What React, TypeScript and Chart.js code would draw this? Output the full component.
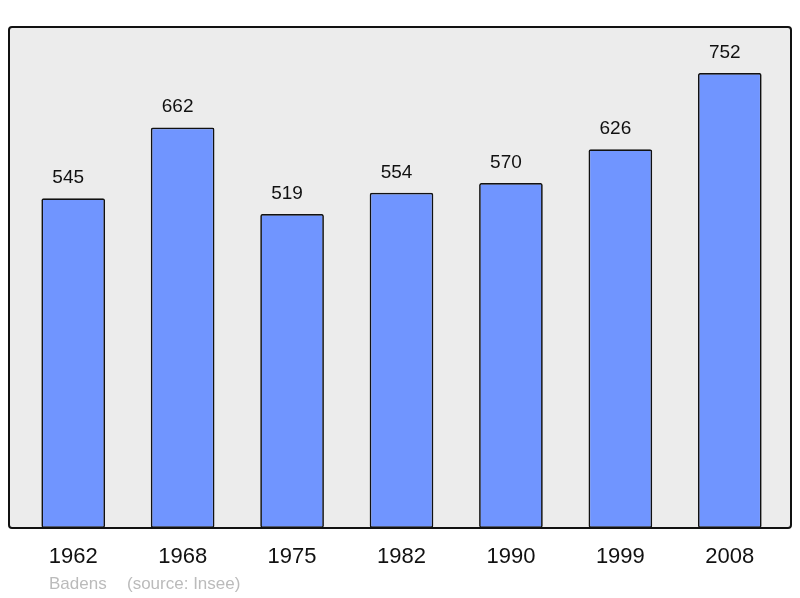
import React, { useEffect, useRef } from "react";
import { Chart, registerables } from "chart.js";

Chart.register(...registerables);

const years = ["1962", "1968", "1975", "1982", "1990", "1999", "2008"];
const population = [545, 662, 519, 554, 570, 626, 752];
const footerName = "Badens";
const footerSource = "(source: Insee)";

const FONT = "'Liberation Sans', Arial, sans-serif";

const framePlugin = {
  id: "frame",
  beforeDraw(chart: any) {
    const ctx = chart.ctx;
    const { top, bottom } = chart.chartArea;
    const x0 = 9, x1 = 791;
    ctx.save();
    ctx.beginPath();
    (ctx as any).roundRect(x0, top, x1 - x0, bottom - top, 3);
    ctx.fillStyle = "#ececec";
    ctx.fill();
    ctx.restore();
  },
  afterDatasetsDraw(chart: any) {
    const ctx = chart.ctx;
    const { top, bottom } = chart.chartArea;
    const x0 = 9, x1 = 791;
    ctx.save();
    ctx.beginPath();
    (ctx as any).roundRect(x0, top, x1 - x0, bottom - top, 3);
    ctx.lineWidth = 2;
    ctx.strokeStyle = "#111";
    ctx.stroke();
    // value labels
    const meta = chart.getDatasetMeta(0);
    ctx.fillStyle = "#111";
    ctx.font = `19px ${FONT}`;
    ctx.textAlign = "center";
    ctx.textBaseline = "alphabetic";
    meta.data.forEach((bar: any, i: number) => {
      ctx.fillText(String(population[i]), bar.x - 5, bar.y - 15);
    });
    // footer
    ctx.fillStyle = "#bbbbbb";
    ctx.font = `17px ${FONT}`;
    ctx.textAlign = "left";
    ctx.fillText(footerName, 49, 589);
    ctx.fillText(footerSource, 127, 589);
    ctx.restore();
  },
};

export default function App() {
  const ref = useRef<HTMLCanvasElement | null>(null);
  useEffect(() => {
    if (!ref.current) return;
    const chart = new Chart(ref.current, {
      type: "bar",
      data: {
        labels: years,
        datasets: [
          {
            data: population,
            backgroundColor: "#7095ff",
            borderColor: "#111",
            borderWidth: 1.7,
            borderRadius: 2,
            borderSkipped: false,
            categoryPercentage: 1,
            barPercentage: 0.582,
          },
        ],
      },
      options: {
        animation: false,
        responsive: false,
        devicePixelRatio: 1,
        layout: { padding: { top: 27, left: 18.5, right: 15.5, bottom: 0 } },
        plugins: { legend: { display: false }, tooltip: { enabled: false } },
        scales: {
          x: {
            grid: { display: false, drawTicks: false },
            border: { display: false },
            ticks: { color: "#111", font: { size: 22, family: FONT }, padding: 16 },
            afterFit: (scale: any) => {
              scale.height = 70;
            },
          },
          y: { display: false, min: 0, max: 828 },
        },
      },
      plugins: [framePlugin],
    });
    return () => chart.destroy();
  }, []);
  return (
    <div style={{ position: "absolute", left: 0, top: 0, width: 800, height: 598, background: "#fff" }}>
      <canvas ref={ref} width={800} height={598} style={{ display: "block" }} />
    </div>
  );
}
